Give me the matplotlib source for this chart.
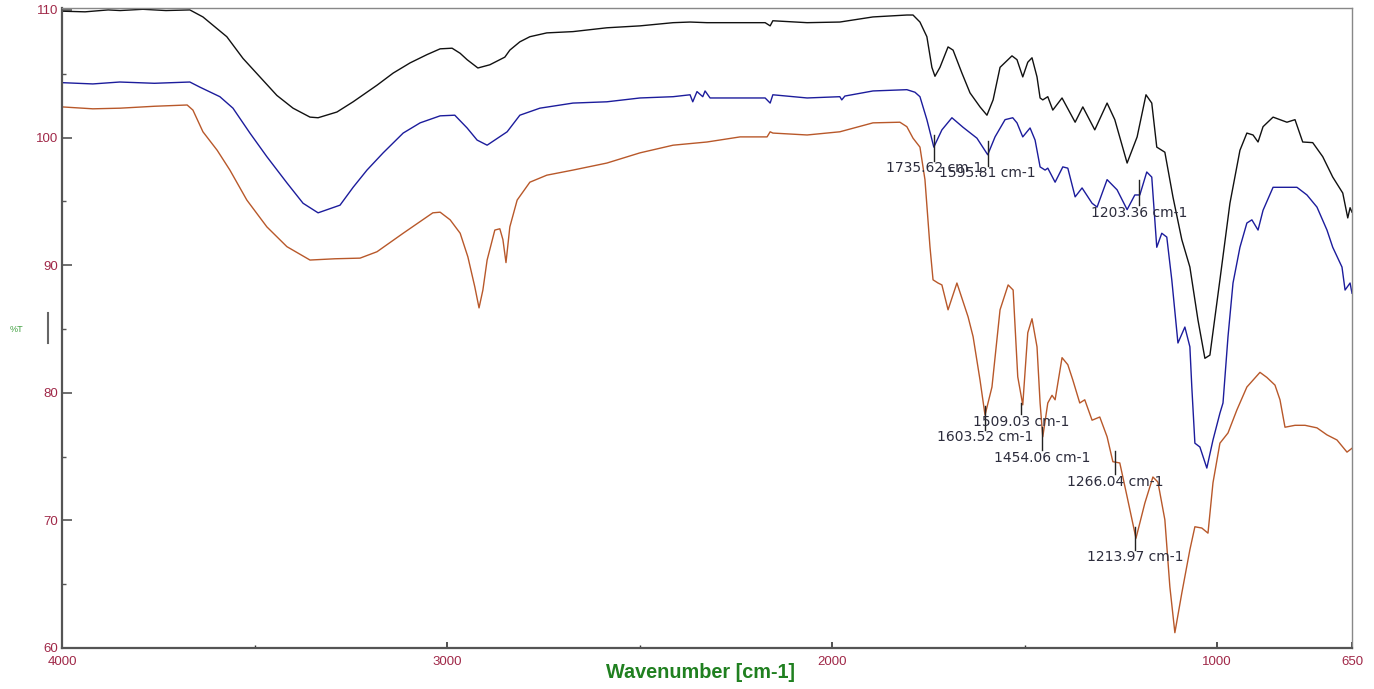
import numpy as np
import matplotlib
matplotlib.use("Agg")
from matplotlib import pyplot as plt
from matplotlib.lines import Line2D

# spectrum 1 (black, top)
wn_black = [4000, 3940, 3880, 3849, 3790, 3730, 3668, 3634, 3572, 3530, 3486, 3442, 3400,
            3356, 3335, 3286, 3244, 3182, 3140, 3096, 3052, 3018, 2987, 2966, 2948, 2920,
            2889, 2850, 2837, 2811, 2785, 2741, 2673, 2585, 2499, 2413, 2369, 2325, 2239,
            2174, 2161, 2154, 2065, 1980, 1894, 1806, 1790, 1772, 1754, 1741, 1733, 1720,
            1699, 1686, 1663, 1642, 1616, 1598, 1582, 1564, 1533, 1520, 1505, 1492, 1481,
            1468, 1460, 1453, 1440, 1427, 1403, 1369, 1349, 1318, 1286, 1266, 1234, 1208,
            1185, 1170, 1157, 1136, 1115, 1092, 1071, 1050, 1032, 1019, 993, 967, 941, 923,
            907, 894, 881, 855, 819, 798, 778, 752, 726, 700, 674, 661, 655, 650]
t_black = [109.9, 109.85, 110.0, 109.95, 110.05, 109.95, 110.0, 109.45, 107.9, 106.2, 104.75,
           103.3, 102.3, 101.6, 101.55, 102.0, 102.8, 104.1, 105.05, 105.85, 106.5, 106.95,
           107.0, 106.6, 106.1, 105.45, 105.7, 106.3, 106.85, 107.5, 107.9, 108.2, 108.3,
           108.6, 108.75, 109.0, 109.05, 109.0, 109.0, 109.0, 108.75, 109.15, 109.0, 109.05,
           109.45, 109.6, 109.6, 109.05, 107.9, 105.5, 104.8, 105.5, 107.1, 106.85, 105.05,
           103.5, 102.4, 101.75, 102.95, 105.5, 106.4, 106.1, 104.75, 105.9, 106.25, 104.75,
           103.1, 102.95, 103.2, 102.15, 103.1, 101.2, 102.4, 100.6, 102.7, 101.4, 98.0,
           100.05, 103.35, 102.7, 99.25, 98.85, 95.35, 92.0, 89.85, 85.7, 82.7, 82.95, 88.85,
           94.85, 99.0, 100.35, 100.2, 99.65, 100.85, 101.6, 101.2, 101.4, 99.65, 99.6, 98.5,
           96.9, 95.65, 93.7, 94.5, 94.15]

# spectrum 2 (blue, middle)
wn_blue = [4000, 3920, 3850, 3760, 3668, 3642, 3590, 3556, 3512, 3468, 3416, 3374, 3335, 3278,
           3244, 3208, 3166, 3114, 3070, 3018, 2980, 2948, 2922, 2896, 2844, 2811, 2759, 2673,
           2585, 2499, 2413, 2369, 2362, 2351, 2336, 2330, 2317, 2239, 2174, 2161, 2154, 2065,
           1980, 1975, 1967, 1894, 1806, 1785, 1772, 1754, 1736, 1715, 1689, 1660, 1624, 1596,
           1577, 1551, 1531, 1520, 1505, 1486, 1473, 1460, 1447, 1440, 1421, 1401, 1388, 1369,
           1351, 1325, 1312, 1286, 1260, 1234, 1214, 1201, 1183, 1170, 1157, 1144, 1131, 1118,
           1102, 1084, 1071, 1066, 1058, 1045, 1027, 1011, 993, 985, 972, 959, 941, 923, 910,
           894, 881, 855, 793, 767, 741, 715, 700, 676, 668, 655, 650]
t_blue = [104.3, 104.2, 104.35, 104.25, 104.35, 103.95, 103.2, 102.3, 100.35, 98.5, 96.45,
          94.85, 94.1, 94.7, 96.1, 97.45, 98.8, 100.35, 101.15, 101.7, 101.75, 100.75, 99.8,
          99.4, 100.45, 101.75, 102.3, 102.7, 102.8, 103.1, 103.2, 103.35, 102.8, 103.6, 103.2,
          103.65, 103.1, 103.1, 103.1, 102.7, 103.35, 103.1, 103.2, 102.95, 103.25, 103.65,
          103.75, 103.55, 103.2, 101.4, 99.25, 100.6, 101.55, 100.8, 99.95, 98.65, 100.05,
          101.4, 101.55, 101.15, 100.05, 100.75, 99.8, 97.7, 97.45, 97.6, 96.5, 97.7, 97.6,
          95.35, 96.05, 94.85, 94.55, 96.7, 95.9, 94.35, 95.5, 95.5, 97.3, 96.9, 91.4, 92.5,
          92.2, 88.85, 83.9, 85.15, 83.6, 80.45, 76.05, 75.75, 74.1, 76.3, 78.4, 79.2, 84.4,
          88.6, 91.4, 93.3, 93.55, 92.75, 94.3, 96.1, 96.1, 95.5, 94.55, 92.75, 91.4, 89.85,
          88.05, 88.6, 87.8]

# spectrum 3 (orange, bottom)
wn_orange = [4000, 3920, 3849, 3760, 3675, 3660, 3634, 3597, 3564, 3520, 3468, 3416, 3356,
             3291, 3226, 3182, 3114, 3037, 3018, 2992, 2966, 2946, 2928, 2917, 2907, 2896,
             2876, 2863, 2855, 2847, 2837, 2818, 2785, 2741, 2673, 2585, 2499, 2413, 2325,
             2239, 2169, 2161, 2154, 2065, 1980, 1894, 1824, 1806, 1790, 1772, 1759, 1746,
             1738, 1725, 1715, 1699, 1676, 1647, 1634, 1616, 1603, 1585, 1564, 1543, 1530,
             1518, 1505, 1492, 1481, 1468, 1460, 1453, 1440, 1429, 1421, 1403, 1388, 1375,
             1357, 1344, 1325, 1305, 1286, 1271, 1253, 1234, 1211, 1188, 1167, 1154, 1136,
             1123, 1110, 1092, 1071, 1058, 1040, 1024, 1011, 993, 972, 949, 923, 889, 871,
             850, 837, 824, 798, 772, 741, 715, 689, 663, 650]
t_orange = [102.4, 102.25, 102.3, 102.45, 102.55, 102.15, 100.45, 99.0, 97.45, 95.1, 93.0,
            91.45, 90.4, 90.5, 90.55, 91.05, 92.5, 94.1, 94.15, 93.55, 92.5, 90.65, 88.3,
            86.65, 88.05, 90.4, 92.75, 92.85, 92.0, 90.2, 93.0, 95.1, 96.5, 97.05, 97.45,
            98.0, 98.8, 99.4, 99.65, 100.05, 100.05, 100.45, 100.35, 100.2, 100.45, 101.15,
            101.2, 100.85, 99.95, 99.25, 96.7, 91.45, 88.85, 88.6, 88.45, 86.5, 88.6, 85.95,
            84.4, 81.0, 78.25, 80.45, 86.5, 88.45, 88.05, 81.25, 79.05, 84.7, 85.8, 83.6,
            79.2, 76.55, 79.2, 79.8, 79.45, 82.75, 82.2, 81.0, 79.2, 79.45, 77.85, 78.1,
            76.55, 74.6, 74.5, 71.85, 68.6, 71.35, 73.4, 73.0, 70.05, 64.8, 61.2, 64.3, 67.7,
            69.5, 69.4, 69.0, 72.95, 76.05, 76.85, 78.65, 80.45, 81.6, 81.2, 80.6, 79.45,
            77.3, 77.45, 77.45, 77.25, 76.7, 76.3, 75.35, 75.65]

# peak picks: wavenumber, label, marker top, marker bottom
peak_wn = [1735.62, 1595.81, 1203.36, 1603.52, 1509.03, 1454.06, 1266.04, 1213.97]
peak_top = [100.2, 99.7, 96.7, 79.0, 79.2, 77.3, 75.4, 69.5]
peak_bottom = [98.2, 97.8, 94.7, 77.1, 78.3, 75.5, 73.6, 67.7]

tick_color = "#a02848"

fig = plt.figure(figsize=(13.74, 6.89), dpi=100)
ax = fig.add_axes([62 / 1374, 1 - 648 / 689, 1290 / 1374, 640 / 689])

ax.plot(wn_black, t_black, color="#111111", lw=1.0)
ax.plot(wn_blue, t_blue, color="#1c1c9c", lw=1.0)
ax.plot(wn_orange, t_orange, color="#b8582a", lw=1.0)

for w, top, bot in zip(peak_wn, peak_top, peak_bottom):
    ax.plot([w, w], [bot, top], color="#222222", lw=1.0)
    ax.text(w, bot - 0.6, f"{w:.2f} cm-1", ha="center", va="center",
            fontsize=10, color="#2c2c3c", family="DejaVu Sans")

ax.set_xlim(4000, 650)
ax.set_ylim(60, 110.15)
ax.set_xticks([4000, 3000, 2000, 1000, 650])
ax.set_xticklabels(["4000", "3000", "2000", "1000", "650"])
ax.set_xticks([3500, 2500, 1500], minor=True)
ax.set_yticks([60, 70, 80, 90, 100, 110])
ax.set_yticks([65, 75, 85, 95, 105], minor=True)

ax.tick_params(axis="x", which="major", direction="in", length=4.5, width=1.2,
               color="#333333", pad=6, labelsize=9.5, labelcolor=tick_color)
ax.tick_params(axis="x", which="minor", direction="in", length=2.2, width=1.0,
               color="#333333")
ax.tick_params(axis="y", which="major", direction="in", length=7, width=1.2,
               color="#555555", pad=3, labelsize=9.5, labelcolor=tick_color)
ax.tick_params(axis="y", which="minor", direction="in", length=3, width=1.0,
               color="#555555")
for lbl in ax.get_xticklabels() + ax.get_yticklabels():
    lbl.set_family("Liberation Sans")

for side in ["left", "bottom"]:
    ax.spines[side].set_color("#555555")
    ax.spines[side].set_linewidth(1.6)
for side in ["top", "right"]:
    ax.spines[side].set_color("#888888")
    ax.spines[side].set_linewidth(1.0)

fig.text(700 / 1374, 1 - 673 / 689, "Wavenumber [cm-1]", ha="center", va="center",
         fontsize=14.3, fontweight="bold", color="#208020", family="Liberation Sans")
fig.text(16 / 1374, 1 - 329 / 689, "%T", ha="center", va="center",
         fontsize=6.5, color="#40a040", family="Liberation Sans")
fig.add_artist(Line2D([48 / 1374, 48 / 1374], [1 - 313 / 689, 1 - 343 / 689],
                      color="#666666", lw=1.5))

fig.savefig("out.png", dpi=100)
